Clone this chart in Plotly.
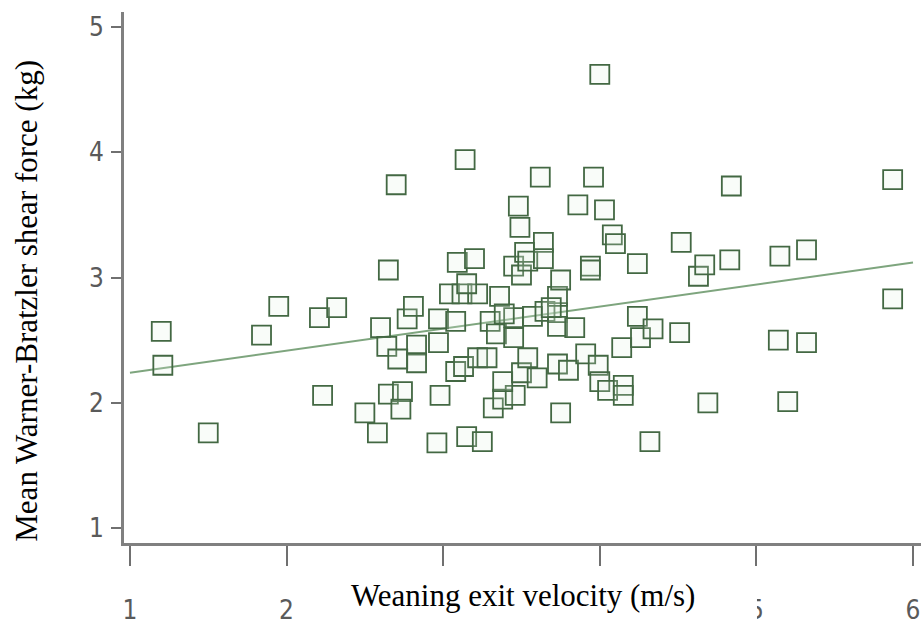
import plotly.graph_objects as go

# Weaning exit velocity (m/s) for each animal
velocity = [
    1.20, 1.21, 1.50, 1.84, 1.95, 2.21, 2.23, 2.32, 2.50, 2.58,
    2.60, 2.65, 2.70, 2.64, 2.65, 2.74, 2.73, 2.71, 2.77, 2.81,
    2.83, 2.83, 2.96, 2.98, 2.97, 2.97, 3.04, 3.08, 3.08, 3.09,
    3.14, 3.12, 3.13, 3.15, 3.20, 3.22, 3.22, 3.25, 3.28, 3.30,
    3.34, 3.32, 3.38, 3.46, 3.38, 3.36, 3.45, 3.45, 3.45, 3.48,
    3.49, 3.50, 3.52, 3.54, 3.50, 3.54, 3.57, 3.60, 3.62, 3.64,
    3.64, 3.65, 3.73, 3.73, 3.73, 3.73, 3.75, 3.75, 3.80, 3.84,
    3.86, 3.91, 3.94, 3.94, 3.96, 3.99, 4.00, 4.00, 4.03, 4.05,
    4.08, 4.10, 4.14, 4.15, 4.15, 4.24, 4.24, 4.26, 4.32, 4.34,
    4.51, 4.52, 4.63, 4.67, 4.69, 4.83, 4.84, 5.14, 5.15, 5.20,
    5.32, 5.32, 5.87, 5.87, 3.69, 3.39, 3.15,
]

# Mean Warner-Bratzler shear force (kg) for the same animals
shear_force = [
    2.57, 2.30, 1.76, 2.54, 2.77, 2.68, 2.06, 2.76, 1.92, 1.76,
    2.60, 3.06, 3.74, 2.45, 2.07, 2.09, 1.95, 2.35, 2.67, 2.77,
    2.46, 2.32, 1.68, 2.06, 2.48, 2.67, 2.87, 2.65, 2.25, 3.12,
    3.94, 2.87, 2.29, 1.73, 3.15, 2.87, 2.36, 1.69, 2.36, 2.65,
    2.55, 1.96, 2.03, 2.06, 2.17, 2.85, 3.09, 2.68, 2.52, 3.57,
    3.40, 3.02, 3.20, 3.13, 2.24, 2.36, 2.69, 2.20, 3.80, 3.28,
    3.15, 2.73, 2.72, 2.85, 2.61, 2.31, 2.98, 1.92, 2.26, 2.60,
    3.58, 2.39, 3.09, 3.06, 3.80, 2.30, 4.62, 2.17, 3.54, 2.10,
    3.34, 3.27, 2.44, 2.14, 2.06, 3.11, 2.69, 2.52, 1.69, 2.59,
    2.56, 3.28, 3.01, 3.10, 2.00, 3.14, 3.73, 2.50, 3.17, 2.01,
    3.22, 2.48, 3.78, 2.83, 2.76, 2.71, 2.95,
]

# Linear fit line endpoints
fit_velocity = [1.0, 6.0]
fit_shear = [2.24, 3.12]

# x ticks 3 and 4 sit under the axis title, so they carry no label
x_ticks = [1, 2, 3, 4, 5, 6]
x_tick_text = ["1", "2", "", "", "5", "6"]
y_ticks = [1, 2, 3, 4, 5]
y_tick_text = ["1", "2", "3", "4", "5"]

fig = go.Figure()

fig.add_trace(go.Scatter(
    x=fit_velocity, y=fit_shear, mode="lines",
    line=dict(color="#7ea57e", width=2),
    hoverinfo="skip", showlegend=False,
))

fig.add_trace(go.Scatter(
    x=velocity, y=shear_force, mode="markers",
    marker=dict(symbol="square", size=19,
                color="rgba(225,242,225,0.2)",
                line=dict(color="#436843", width=1.8)),
    showlegend=False,
))

tick_font = dict(family="DejaVu Sans Condensed, Liberation Sans Narrow, DejaVu Sans",
                 size=26, color="#5a5a5a")

fig.update_xaxes(
    range=[0.962, 6.051], tickvals=x_ticks, ticktext=x_tick_text,
    showgrid=False, zeroline=False, showline=True, linecolor="#808080", linewidth=3,
    ticks="outside", ticklen=20, tickwidth=2, tickcolor="#707070",
    tickfont=tick_font, ticklabelstandoff=22,
)
fig.update_yaxes(
    range=[0.882, 5.118], tickvals=y_ticks, ticktext=y_tick_text,
    showgrid=False, zeroline=False, showline=True, linecolor="#808080", linewidth=3,
    ticks="outside", ticklen=10, tickwidth=1.5, tickcolor="#707070",
    tickfont=tick_font, ticklabelstandoff=2,
)

# white panel behind the x-axis title
fig.add_shape(type="rect", xref="paper", yref="paper",
              x0=0.2334, x1=0.7942, y0=-0.047, y1=-0.16,
              fillcolor="white", line=dict(width=0), layer="above")

title_font = dict(family="Liberation Serif, Times New Roman, serif", size=31, color="black")
fig.add_annotation(text="Weaning exit velocity (m/s)", xref="paper", yref="paper",
                   x=0.5006, y=-0.0985, xanchor="center", yanchor="middle",
                   showarrow=False, font=title_font)
fig.add_annotation(text="Mean Warner-Bratzler shear force (kg)", xref="paper", yref="paper",
                   x=-0.1225, y=0.457, xanchor="center", yanchor="middle", textangle=-90,
                   showarrow=False, font=title_font)

fig.update_layout(
    width=921, height=625,
    margin=dict(l=124, r=0, t=12, b=75),
    paper_bgcolor="white", plot_bgcolor="white",
)

fig.write_html("out.html")
